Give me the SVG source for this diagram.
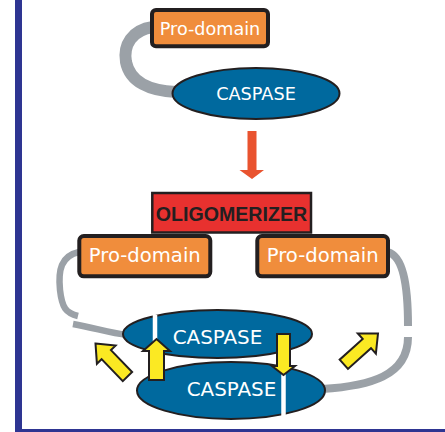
<svg xmlns="http://www.w3.org/2000/svg" width="445" height="432" viewBox="0 0 445 432">
<style>
.frame{fill:#2E3592}
.link{fill:none;stroke:#9BA1A7;stroke-linecap:butt}
.pro rect{fill:#F08D3C;stroke:#231F20;stroke-width:4}
.pro text{fill:#FFFFFF;font-family:"DejaVu Sans",Verdana,sans-serif;text-anchor:middle}
.casp ellipse{fill:#00699E;stroke:#231F20;stroke-width:2}
.casp text{fill:#FFFFFF;font-family:"DejaVu Sans",Verdana,sans-serif;text-anchor:middle}
.yarrow{fill:#FBE923;stroke:#231F20;stroke-width:2;stroke-linejoin:miter}
.wline{stroke:#FFFFFF;stroke-width:4.5}
</style>
<rect width="445" height="432" fill="#FFFFFF"/>
<g id="frame">
<rect class="frame" x="15" y="0" width="7" height="432"/>
<rect class="frame" x="15" y="429" width="430" height="3"/>
</g>
<g id="connectors">
<path class="link" d="M153 27 C132 30 123 45 126 62 C130 82 150 91 176 92" stroke-width="12"/>
<path class="link" d="M79 252 C61 256 58 270 60 290 C62 308 66 313 78 316" stroke-width="6.5"/>
<path class="link" d="M73 324 C95 328 110 333 127 335" stroke-width="6.5"/>
<path class="link" d="M388 252 C402 256 408 282 408 326" stroke-width="8"/>
<path class="link" d="M408 337 C408 376 370 386 322 389" stroke-width="8"/>
<path d="M247.5 131 H256.5 V170 H264 L252 179 L239.5 170 H247.5 Z" fill="#E9532F"/>
</g>
<g id="prodomain-top" class="pro">
<rect x="152" y="10" width="116" height="36.3" rx="4"/>
<text x="210" y="35" font-size="17.6">Pro-domain</text>
</g>
<g id="caspase-top" class="casp">
<ellipse cx="256" cy="93.5" rx="83.5" ry="25.5"/>
<text x="256" y="99.5" font-size="17.7">CASPASE</text>
</g>
<g id="oligomerizer">
<rect x="152.3" y="193" width="158.7" height="39.5" fill="#E8312F" stroke="#231F20" stroke-width="2.5"/>
<text x="231.5" y="221" font-family="'Liberation Sans',Arial,sans-serif" font-weight="bold" font-size="19.6" fill="#231F20" text-anchor="middle">OLIGOMERIZER</text>
</g>
<g id="prodomain-left" class="pro">
<rect x="79.3" y="236" width="131" height="40.3" rx="4.5"/>
<text x="144.8" y="262.3" font-size="19.6">Pro-domain</text>
</g>
<g id="prodomain-right" class="pro">
<rect x="257.3" y="236" width="130.7" height="40.3" rx="4.5"/>
<text x="322.7" y="262.3" font-size="19.6">Pro-domain</text>
</g>
<g id="caspase-upper" class="casp">
<ellipse cx="217.5" cy="334" rx="94.5" ry="24"/>
<text x="217.5" y="344" font-size="19.9">CASPASE</text>
</g>
<g id="caspase-lower" class="casp">
<ellipse cx="231" cy="390.5" rx="94" ry="28.5"/>
<text x="231.5" y="395.5" font-size="19.9">CASPASE</text>
</g>
<g id="arrows">
<line class="wline" x1="155" y1="315" x2="155" y2="342"/>
<line class="wline" x1="283.5" y1="374" x2="283.5" y2="416"/>
<polygon class="yarrow" points="149,380 164,380 164,351 170,351 156.5,339 143,351 149,351"/>
<polygon class="yarrow" points="277,334 290,334 290,366 295,366 283.5,375 272,366 277,366"/>
<polygon class="yarrow" transform="translate(95.5,343.5) rotate(-134)" points="0,0 -15.5,13 -15.5,6.5 -46,6.5 -46,-6.5 -15.5,-6.5 -15.5,-13"/>
<polygon class="yarrow" transform="translate(378,333.5) rotate(-42)" points="0,0 -15,13.5 -15,6.2 -46,6.2 -46,-6.2 -15,-6.2 -15,-13.5"/>
</g>
</svg>
